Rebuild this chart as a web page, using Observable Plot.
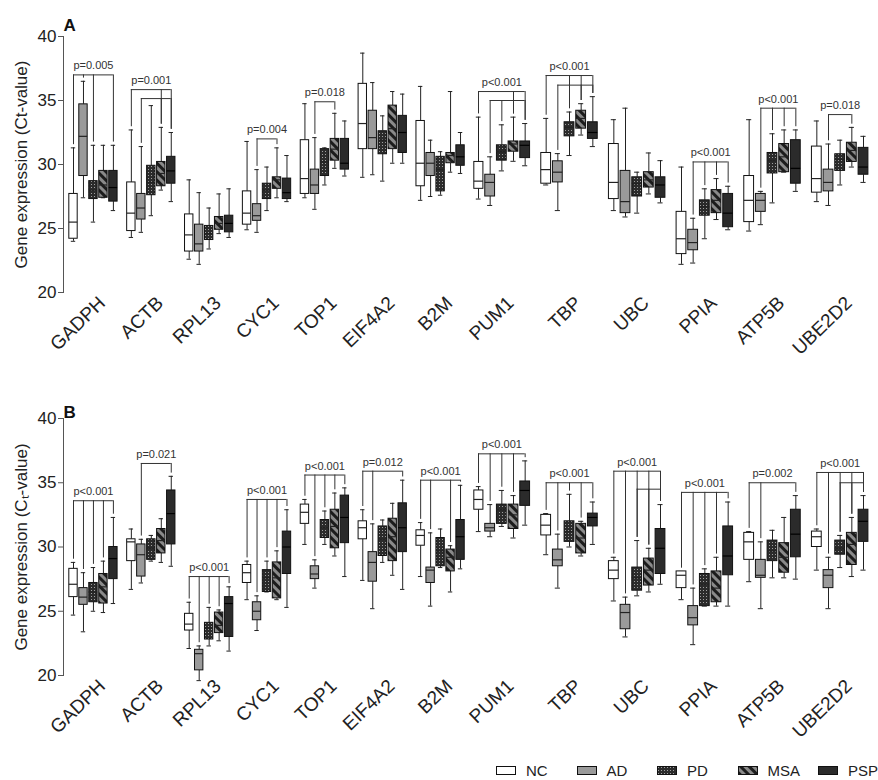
<!DOCTYPE html>
<html>
<head>
<meta charset="utf-8">
<script src="https://cdn.jsdelivr.net/npm/d3@7"></script>
<script src="https://cdn.jsdelivr.net/npm/@observablehq/plot@0.6"></script>
<style>
  body { margin: 0; background: #fff; font-family: 'Liberation Sans', Arial, sans-serif; }
  #wrap { position: relative; width: 878px; height: 780px; background: #fff; overflow: hidden; }
  #pa, #pb { position: absolute; left: 0; }
  #pa { top: 0; }
  #pb { top: 370px; }
  #legend { position: absolute; left: 496px; top: 761px; display: flex; font-size: 15px; color: #222; }
  #legend .item { width: 80.5px; display: flex; align-items: center; height: 18px; }
  #legend svg { margin-right: 10px; }
</style>
</head>
<body>
<svg width="0" height="0" style="position:absolute">
  <defs>
    <pattern id="pd" width="3" height="3" patternUnits="userSpaceOnUse">
      <rect width="3" height="3" fill="#2b2b2b"></rect>
      <rect x="1" y="1" width="1" height="1" fill="#a0a0a0"></rect>
    </pattern>
    <pattern id="msa" width="6" height="6" patternUnits="userSpaceOnUse" patternTransform="rotate(-45)">
      <rect width="6" height="6" fill="#8a8a8a"></rect>
      <rect width="3" height="6" fill="#1c1c1c"></rect>
    </pattern>
  </defs>
</svg>
<div id="wrap">
  <div id="pa"></div>
  <div id="pb"></div>
  <div id="legend"></div>
</div>
<script>
// ---------- DATA ----------
const genes = ["GADPH","ACTB","RPL13","CYC1","TOP1","EIF4A2","B2M","PUM1","TBP","UBC","PPIA","ATP5B","UBE2D2"];
const groups = ["NC","AD","PD","MSA","PSP"];

// each row: [whisker low, Q1, median, Q3, whisker high] per gene (Ct values)
// Panel A
const A_NC = [[24.0,24.2,25.5,27.7,31.3],[24.3,24.8,26.2,28.6,32.7],[22.6,23.2,24.5,26.1,28.8],[24.9,25.3,26.2,27.9,31.8],[27.4,27.7,28.9,31.9,34.75],[29.0,31.2,33.2,36.3,38.7],[27.2,28.3,30.1,33.4,36.1],[27.3,28.1,28.7,30.2,33.7],[28.4,28.5,29.6,30.9,33.6],[26.4,27.3,28.6,31.6,33.5],[22.2,23.0,24.2,26.3,29.8],[24.8,25.5,27.2,29.1,33.5],[27.1,27.8,28.9,31.4,33.4]];
const A_AD = [[27.4,29.1,32.2,34.7,36.5],[24.7,25.7,26.6,27.7,31.4],[22.2,23.2,23.8,25.3,27.8],[24.7,25.6,26.0,26.9,29.6],[26.5,27.7,28.4,29.6,32.1],[29.2,31.2,32.1,34.2,36.4],[27.5,29.1,30.1,30.9,31.9],[26.8,27.5,28.6,29.2,30.6],[26.4,28.6,29.4,30.25,30.85],[25.9,26.2,27.1,29.5,34.4],[22.3,23.3,23.9,24.9,25.8],[25.3,26.3,27.2,27.7,27.9],[26.8,27.9,28.6,29.6,31.6]];
const A_PD = [[25.5,27.3,28.0,28.7,31.5],[26.0,27.6,28.6,29.9,34.6],[23.4,24.1,24.6,25.2,26.6],[26.4,27.3,28.0,28.5,29.8],[28.4,29.1,30.2,31.2,31.3],[28.7,30.8,31.9,32.6,33.8],[27.6,27.9,29.6,30.6,31.0],[29.5,30.3,31.0,31.5,33.1],[30.7,32.2,32.9,33.3,34.1],[26.2,27.5,28.5,29.0,29.4],[24.2,26.0,26.7,27.2,28.1],[27.0,29.3,30.3,30.9,32.4],[28.4,29.5,30.4,30.8,31.9]];
const A_MSA = [[27.4,27.4,28.4,29.5,31.5],[28.0,28.3,29.3,30.2,32.9],[24.6,24.9,25.4,25.9,27.7],[27.4,28.1,28.8,29.0,31.3],[29.7,30.3,31.2,32.0,34.0],[30.1,31.2,32.8,34.6,35.7],[29.4,30.1,30.7,30.9,35.7],[30.25,31.0,31.6,31.8,33.7],[32.3,32.8,33.6,34.2,34.75],[27.7,28.2,28.8,29.4,30.9],[25.7,26.2,27.2,28.0,28.9],[29.4,29.4,30.6,31.6,32.7],[29.8,30.2,31.1,31.7,32.9]];
const A_PSP = [[26.4,27.1,28.2,29.5,31.5],[27.1,28.5,29.5,30.6,32.5],[24.3,24.7,25.4,26.0,28.1],[27.1,27.3,27.8,28.9,30.7],[29.1,29.6,30.1,32.0,33.4],[30.1,30.9,32.5,33.8,35.5],[29.3,29.9,30.6,31.5,32.5],[29.9,30.5,31.5,31.8,33.2],[31.4,32.0,32.5,33.3,35.3],[27.0,27.4,28.4,29.0,30.3],[24.9,25.1,26.2,27.7,28.3],[27.9,28.5,29.7,31.9,32.7],[28.6,29.2,29.8,31.3,32.2]];

// Panel B
const B_NC = [[24.7,26.1,27.1,28.3,28.8],[26.7,28.9,30.4,30.6,31.4],[22.1,23.5,24.0,24.8,25.7],[25.9,27.2,28.0,28.6,28.9],[30.2,31.8,32.7,33.3,33.7],[27.4,30.6,31.5,32.0,32.9],[27.7,30.1,30.9,31.3,31.9],[31.2,32.9,33.7,34.4,34.7],[29.4,30.9,31.7,32.5,32.6],[25.8,27.5,28.2,28.9,29.2],[25.9,26.8,27.8,28.1,28.1],[27.3,29.0,30.4,31.1,31.2],[28.2,30.0,30.8,31.2,31.4]];
const B_AD = [[23.4,25.5,26.1,26.8,28.0],[27.2,27.7,29.4,30.2,30.6],[19.6,20.4,21.7,22.0,22.3],[23.5,24.3,25.0,25.7,26.2],[26.8,27.5,27.9,28.5,29.0],[25.2,27.3,28.8,29.6,31.8],[25.4,27.2,28.2,28.4,31.1],[30.8,31.2,31.5,31.8,33.3],[26.8,28.5,29.0,29.8,31.0],[23.0,23.6,24.9,25.5,26.1],[22.4,23.9,24.5,25.4,26.8],[25.2,27.6,27.8,29.0,30.4],[25.2,26.8,27.8,28.2,29.2]];
const B_PD = [[25.0,25.7,26.5,27.2,28.4],[28.9,29.0,29.9,30.6,30.9],[22.3,22.8,23.7,24.1,25.3],[26.5,26.5,27.6,28.2,28.9],[30.2,30.7,31.5,32.1,32.8],[28.8,29.3,30.6,31.6,32.1],[28.4,28.5,29.7,30.7,31.4],[31.6,31.8,32.9,33.3,34.4],[30.0,30.4,31.2,32.0,34.1],[26.2,26.6,27.6,28.4,30.5],[25.4,25.4,27.1,27.9,28.3],[27.6,28.9,29.7,30.5,31.3],[28.4,29.4,29.9,30.5,30.9]];
const B_MSA = [[24.9,25.6,26.9,27.9,28.9],[28.8,29.5,30.5,31.4,32.2],[22.7,23.3,23.9,24.9,25.1],[25.9,26.0,27.6,28.8,29.7],[29.3,29.9,31.6,32.9,34.2],[27.8,28.9,30.8,32.2,33.4],[26.5,28.1,29.2,29.8,30.1],[30.7,31.4,32.5,33.3,34.0],[29.3,29.5,30.7,31.8,32.0],[26.5,27.0,28.2,29.1,29.9],[25.4,25.7,26.8,28.1,29.2],[27.6,28.0,29.2,30.3,32.3],[27.7,28.6,30.2,31.1,32.3]];
const B_PSP = [[25.6,27.5,29.1,30.0,32.3],[28.5,30.2,32.6,34.4,35.5],[21.9,23.0,25.6,26.1,26.9],[25.3,27.9,30.0,31.2,32.9],[27.7,30.3,32.3,34.0,34.6],[26.7,29.6,31.5,33.4,35.2],[28.3,29.0,30.8,32.1,34.8],[31.7,33.2,34.4,35.1,36.7],[30.2,31.6,32.3,32.6,33.5],[27.1,27.9,29.9,31.4,33.3],[25.4,27.8,29.3,31.6,33.5],[27.5,29.2,31.0,32.9,34.0],[28.2,30.4,32.0,32.9,34.0]];

// significance brackets: gene, label, lines [level (Ct), groups joined]
const ALL = ["NC","AD","PD","MSA","PSP"];
const A_brackets = [
  {gene:"GADPH", label:"p=0.005", lines:[[37.0,["NC","AD","PD","PSP"]]]},
  {gene:"ACTB", label:"p=0.001", lines:[[35.85,["NC","MSA","PSP"]],[35.15,["AD","MSA","PSP"]]]},
  {gene:"CYC1", label:"p=0.004", lines:[[32.0,["AD","MSA"]]]},
  {gene:"TOP1", label:"p=0.018", lines:[[34.9,["AD","MSA"]]]},
  {gene:"PUM1", label:"p<0.001", lines:[[35.7,["NC","MSA","PSP"]],[35.0,["AD","PD","MSA","PSP"]]]},
  {gene:"TBP", label:"p<0.001", lines:[[36.95,["NC","PD","MSA","PSP"]],[36.2,["AD","MSA","PSP"]]]},
  {gene:"PPIA", label:"p<0.001", lines:[[30.2,["AD","PD","MSA","PSP"]]]},
  {gene:"ATP5B", label:"p<0.001", lines:[[34.4,["AD","PD","MSA","PSP"]]]},
  {gene:"UBE2D2", label:"p=0.018", lines:[[33.9,["AD","MSA"]]]}
];
const B_brackets = [
  {gene:"GADPH", label:"p<0.001", lines:[[33.6,ALL]]},
  {gene:"ACTB", label:"p=0.021", lines:[[36.5,["AD","PSP"]]]},
  {gene:"RPL13", label:"p<0.001", lines:[[27.7,ALL]]},
  {gene:"CYC1", label:"p<0.001", lines:[[33.7,ALL]]},
  {gene:"TOP1", label:"p<0.001", lines:[[35.6,ALL]]},
  {gene:"EIF4A2", label:"p=0.012", lines:[[35.9,["NC","AD","PSP"]]]},
  {gene:"B2M", label:"p<0.001", lines:[[35.2,["NC","AD","MSA","PSP"]]]},
  {gene:"PUM1", label:"p<0.001", lines:[[37.25,ALL]]},
  {gene:"TBP", label:"p<0.001", lines:[[35.0,ALL]]},
  {gene:"UBC", label:"p<0.001", lines:[[35.9,ALL],[34.5,["PD","MSA","PSP"]]]},
  {gene:"PPIA", label:"p<0.001", lines:[[34.25,ALL]]},
  {gene:"ATP5B", label:"p=0.002", lines:[[35.0,["NC","AD","PSP"]]]},
  {gene:"UBE2D2", label:"p<0.001", lines:[[35.8,ALL],[35.0,["PD","MSA","PSP"]]]}
];
const yTicks = [20,25,30,35,40];

// ---------- STYLE ----------
const fills = {NC:"#ffffff", AD:"#9a9a9a", PD:"url(#pd)", MSA:"url(#msa)", PSP:"#2b2b2b"};
const font = "'Liberation Sans', Arial, Helvetica, sans-serif";
// slot position of a box along x: gene index and group index
const slot = (gi, k) => gi * 5.8 + k;

function panel({boxes, brackets, letter, title, height, marginTop, marginBottom, letterDy}) {
  const rows = [];
  genes.forEach((g, gi) => groups.forEach((grp, k) => {
    const [lo, q1, med, q3, hi] = boxes[grp][gi];
    rows.push({gene: g, group: grp, x: slot(gi, k), lo, q1, med, q3, hi});
  }));
  const segH = [], legs = [], plab = [];
  brackets.forEach(b => {
    const gi = genes.indexOf(b.gene);
    b.lines.forEach(([lev, grs], li) => {
      const ks = grs.map(g => groups.indexOf(g));
      const x1 = slot(gi, Math.min(...ks)), x2 = slot(gi, Math.max(...ks));
      segH.push({x1, x2, y: lev});
      ks.forEach(k => legs.push({x: slot(gi, k), y1: lev, y2: boxes[groups[k]][gi][4] + 0.25}));
      if (li === 0) plab.push({x: (x1 + x2) / 2, y: lev, text: b.label});
    });
  });
  const labels = genes.map((g, gi) => ({g, x: slot(gi, 2)}));
  const hw = 0.42, cw = 0.22;
  return Plot.plot({
    width: 878, height, marginTop, marginBottom, marginLeft: 63, marginRight: 8,
    style: {fontFamily: font, fontSize: "17px", color: "#222", background: "white"},
    x: {type: "linear", domain: [0, slot(7, 0), slot(12, 4)], range: [73, 478, 863], axis: null},
    y: {domain: [20, 40], axis: null},
    marks: [
      Plot.axisY({ticks: yTicks, tickSize: 5, tickPadding: 2, label: null, stroke: "#555", fontSize: 17}),
      Plot.frame({anchor: "left", stroke: "#555"}),
      // whiskers
      Plot.ruleX(rows, {x: "x", y1: "lo", y2: "q1", stroke: "#222"}),
      Plot.ruleX(rows, {x: "x", y1: "q3", y2: "hi", stroke: "#222"}),
      Plot.ruleY(rows, {y: "lo", x1: d => d.x - cw, x2: d => d.x + cw, stroke: "#222"}),
      Plot.ruleY(rows, {y: "hi", x1: d => d.x - cw, x2: d => d.x + cw, stroke: "#222"}),
      // boxes
      ...groups.map(grp => Plot.rect(rows.filter(d => d.group === grp), {
        x1: d => d.x - hw, x2: d => d.x + hw, y1: "q1", y2: "q3",
        fill: fills[grp], stroke: "#111", strokeWidth: 1
      })),
      // medians
      Plot.ruleY(rows, {y: "med", x1: d => d.x - hw, x2: d => d.x + hw, stroke: d => d.group === "PSP" ? "#000" : "#222", strokeWidth: 1.2}),
      // brackets
      Plot.ruleY(segH, {x1: "x1", x2: "x2", y: "y", stroke: "#333"}),
      Plot.ruleX(legs, {x: "x", y1: "y1", y2: "y2", stroke: "#333"}),
      Plot.text(plab, {x: "x", y: "y", text: "text", dy: -9, fontSize: 11, fill: "#333"}),
      // gene labels
      Plot.text(labels, {x: "x", frameAnchor: "bottom", text: "g", rotate: -44, textAnchor: "end", dx: 13, dy: 12, fontSize: 19, fill: "#222"}),
      // y title
      Plot.text([title], {frameAnchor: "left", text: d => d, rotate: -90, textAnchor: "middle", dx: -42, fontSize: 17, fill: "#222"}),
      // panel letter
      Plot.text([letter], {frameAnchor: "top-left", text: d => d, textAnchor: "start", dy: letterDy, fontSize: 17, fontWeight: "bold", fill: "#111"})
    ]
  });
}

document.getElementById("pa").append(panel({
  boxes: {NC: A_NC, AD: A_AD, PD: A_PD, MSA: A_MSA, PSP: A_PSP},
  brackets: A_brackets, letter: "A", title: "Gene expression (Ct-value)",
  height: 370, marginTop: 36, marginBottom: 78, letterDy: -18
}));
document.getElementById("pb").append(panel({
  boxes: {NC: B_NC, AD: B_AD, PD: B_PD, MSA: B_MSA, PSP: B_PSP},
  brackets: B_brackets, letter: "B", title: "Gene expression (C\u209C-value)",
  height: 390, marginTop: 48, marginBottom: 85, letterDy: -13
}));

// legend
const lg = document.getElementById("legend");
groups.forEach(grp => {
  const it = document.createElement("div");
  it.className = "item";
  it.innerHTML = `<svg width="20" height="9"><rect x="0.5" y="0.5" width="19" height="8" fill="${fills[grp]}" stroke="#111"/></svg><span>${grp}</span>`;
  lg.append(it);
});
</script>
</body>
</html>
